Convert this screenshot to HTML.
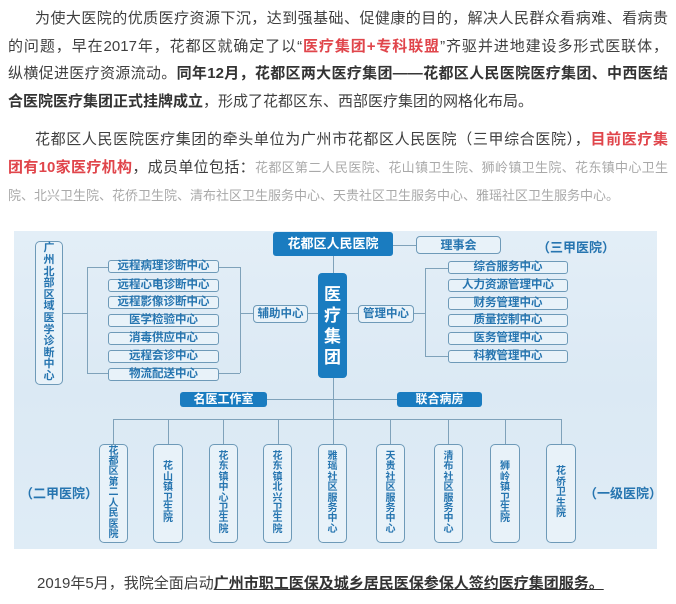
<!DOCTYPE html>
<html><head><meta charset="utf-8"><style>
body{margin:0;width:676px;height:604px;background:#fff;position:relative;overflow:hidden;font-family:"Liberation Sans","Noto Sans CJK SC",sans-serif}
.l{position:absolute;left:8px;width:660px;height:27px;font-size:15px;line-height:27px;color:#3f3f3f;text-align:justify;text-align-last:justify;white-space:nowrap;overflow:hidden}
.l.f{left:35px;width:633px}
.l.e{text-align-last:left}
.r{color:#e0454b;font-weight:bold}
.b{font-weight:bold;color:#333}
.g{color:#a9a9a9;font-size:13px}
.a{position:absolute;box-sizing:border-box}
.ob{border:1px solid #6e9ab8;border-radius:3px;background:#e8f2f9;color:#2675b0;font-weight:bold;font-size:11.5px;text-align:center;line-height:11px}
.fb{background:#1a7cc0;color:#fff;font-weight:bold;border-radius:3px;text-align:center}
.ln{position:absolute;background:#7fa2ba}
.v{display:flex;align-items:center;justify-content:center}
.v span{display:block;width:11px;font-size:10px;line-height:10.4px;word-break:break-all;text-align:center}
.lab{position:absolute;color:#2675b0;font-weight:bold;font-size:13px}
</style></head><body>
<div class="l f" style="top:5px">为使大医院的优质医疗资源下沉，达到强基础、促健康的目的，解决人民群众看病难、看病贵</div>
<div class="l" style="top:33px">的问题，早在2017年，花都区就确定了以“<span class="r">医疗集团+专科联盟</span>”齐驱并进地建设多形式医联体，</div>
<div class="l" style="top:60px">纵横促进医疗资源流动。<span class="b">同年12月，花都区两大医疗集团——花都区人民医院医疗集团、中西医结</span></div>
<div class="l e" style="top:88px"><span class="b">合医院医疗集团正式挂牌成立</span>，形成了花都区东、西部医疗集团的网格化布局。</div>
<div class="l f" style="top:126px">花都区人民医院医疗集团的牵头单位为广州市花都区人民医院（三甲综合医院），<span class="r">目前医疗集</span></div>
<div class="l" style="top:154px"><span class="r">团有10家医疗机构</span>，成员单位包括：<span class="g">花都区第二人民医院、花山镇卫生院、狮岭镇卫生院、花东镇中心卫生</span></div>
<div class="l e" style="top:182px"><span class="g">院、北兴卫生院、花侨卫生院、清布社区卫生服务中心、天贵社区卫生服务中心、雅瑶社区卫生服务中心。</span></div>

<div class="a" style="left:14px;top:231px;width:643px;height:318px;background:linear-gradient(180deg,#e3eef7 0%,#dbe9f4 50%,#dfecf6 100%)"></div>

<div class="ln" style="left:333px;top:256px;width:1px;height:190px"></div>
<div class="ln" style="left:393px;top:245px;width:23px;height:1px"></div>
<div class="ln" style="left:63px;top:313px;width:24px;height:1px"></div>
<div class="ln" style="left:87px;top:267px;width:1px;height:106px"></div>
<div class="ln" style="left:87px;top:267px;width:21px;height:1px"></div>
<div class="ln" style="left:87px;top:373px;width:21px;height:1px"></div>
<div class="ln" style="left:219px;top:267px;width:21px;height:1px"></div>
<div class="ln" style="left:219px;top:373px;width:21px;height:1px"></div>
<div class="ln" style="left:240px;top:267px;width:1px;height:106px"></div>
<div class="ln" style="left:240px;top:313px;width:13px;height:1px"></div>
<div class="ln" style="left:308px;top:313px;width:10px;height:1px"></div>
<div class="ln" style="left:347px;top:313px;width:11px;height:1px"></div>
<div class="ln" style="left:414px;top:313px;width:11px;height:1px"></div>
<div class="ln" style="left:425px;top:268px;width:1px;height:89px"></div>
<div class="ln" style="left:425px;top:268px;width:23px;height:1px"></div>
<div class="ln" style="left:425px;top:356px;width:23px;height:1px"></div>
<div class="ln" style="left:267px;top:399px;width:131px;height:1px"></div>
<div class="ln" style="left:113px;top:419px;width:449px;height:1px"></div>
<div class="ln" style="left:113px;top:419px;width:1px;height:25px"></div>
<div class="ln" style="left:168px;top:419px;width:1px;height:25px"></div>
<div class="ln" style="left:223px;top:419px;width:1px;height:25px"></div>
<div class="ln" style="left:278px;top:419px;width:1px;height:25px"></div>
<div class="ln" style="left:390px;top:419px;width:1px;height:25px"></div>
<div class="ln" style="left:448px;top:419px;width:1px;height:25px"></div>
<div class="ln" style="left:505px;top:419px;width:1px;height:25px"></div>
<div class="ln" style="left:561px;top:419px;width:1px;height:25px"></div>

<div class="a fb" style="left:273px;top:232px;width:120px;height:24px;font-size:13px;line-height:24px">花都区人民医院</div>
<div class="a ob" style="left:416px;top:236px;width:85px;height:18px;font-size:12px;line-height:16px;border-radius:4px">理事会</div>
<div class="lab" style="left:537px;top:237px">（三甲医院）</div>

<div class="a ob v" style="left:35px;top:241px;width:28px;height:144px;border-radius:5px"><span style="font-size:11px;line-height:11.6px">广州北部区域医学诊断中心</span></div>

<div class="a ob" style="left:108px;top:260px;width:111px;height:13px">远程病理诊断中心</div>
<div class="a ob" style="left:108px;top:279px;width:111px;height:13px">远程心电诊断中心</div>
<div class="a ob" style="left:108px;top:296px;width:111px;height:13px">远程影像诊断中心</div>
<div class="a ob" style="left:108px;top:314px;width:111px;height:13px">医学检验中心</div>
<div class="a ob" style="left:108px;top:332px;width:111px;height:13px">消毒供应中心</div>
<div class="a ob" style="left:108px;top:350px;width:111px;height:13px">远程会诊中心</div>
<div class="a ob" style="left:108px;top:368px;width:111px;height:13px">物流配送中心</div>

<div class="a ob" style="left:253px;top:305px;width:55px;height:18px;line-height:16px;border-radius:4px">辅助中心</div>
<div class="a ob" style="left:358px;top:305px;width:56px;height:18px;line-height:16px;border-radius:4px">管理中心</div>
<div class="a fb v" style="left:318px;top:273px;width:29px;height:105px;border-radius:4px"><span style="width:18px;font-size:17px;line-height:21px">医疗集团</span></div>

<div class="a ob" style="left:448px;top:261px;width:120px;height:13px">综合服务中心</div>
<div class="a ob" style="left:448px;top:279px;width:120px;height:13px">人力资源管理中心</div>
<div class="a ob" style="left:448px;top:297px;width:120px;height:13px">财务管理中心</div>
<div class="a ob" style="left:448px;top:314px;width:120px;height:13px">质量控制中心</div>
<div class="a ob" style="left:448px;top:332px;width:120px;height:13px">医务管理中心</div>
<div class="a ob" style="left:448px;top:350px;width:120px;height:13px">科教管理中心</div>

<div class="a fb" style="left:180px;top:392px;width:87px;height:15px;font-size:12px;line-height:15px">名医工作室</div>
<div class="a fb" style="left:397px;top:392px;width:85px;height:15px;font-size:12px;line-height:15px">联合病房</div>

<div class="lab" style="left:20px;top:483px">（二甲医院）</div>
<div class="lab" style="left:584px;top:483px">（一级医院）</div>

<div class="a ob v" style="left:99px;top:444px;width:29px;height:99px;border-radius:5px"><span>花都区第二人民医院</span></div>
<div class="a ob v" style="left:153px;top:444px;width:30px;height:99px;border-radius:5px"><span>花山镇卫生院</span></div>
<div class="a ob v" style="left:209px;top:444px;width:29px;height:99px;border-radius:5px"><span>花东镇中心卫生院</span></div>
<div class="a ob v" style="left:263px;top:444px;width:29px;height:99px;border-radius:5px"><span>花东镇北兴卫生院</span></div>
<div class="a ob v" style="left:318px;top:444px;width:29px;height:99px;border-radius:5px"><span>雅瑶社区服务中心</span></div>
<div class="a ob v" style="left:376px;top:444px;width:29px;height:99px;border-radius:5px"><span>天贵社区服务中心</span></div>
<div class="a ob v" style="left:434px;top:444px;width:29px;height:99px;border-radius:5px"><span>清布社区服务中心</span></div>
<div class="a ob v" style="left:490px;top:444px;width:30px;height:99px;border-radius:5px"><span>狮岭镇卫生院</span></div>
<div class="a ob v" style="left:546px;top:444px;width:30px;height:99px;border-radius:5px"><span>花侨卫生院</span></div>

<div class="l e" style="top:570px;left:37px;width:630px">2019年5月，我院全面启动<span class="b" style="text-decoration:underline">广州市职工医保及城乡居民医保参保人签约医疗集团服务。</span></div>
</body></html>
